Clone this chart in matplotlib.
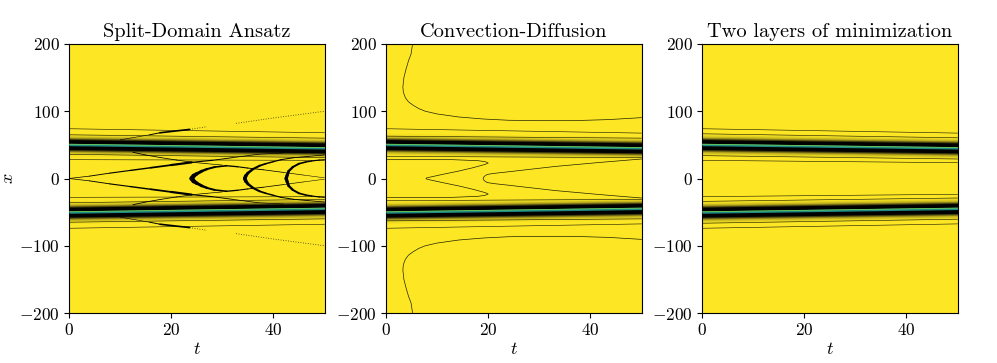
#!/usr/bin/env python3
"""Three field panels: yellow background, dark bands near x = +-48, thin contour lines."""

import numpy as np
import matplotlib
matplotlib.use("Agg")
import matplotlib.pyplot as plt
from matplotlib.collections import LineCollection

plt.rcParams["font.family"] = ["cmr10"]
plt.rcParams["mathtext.fontset"] = "cm"
plt.rcParams["axes.formatter.use_mathtext"] = True
plt.rcParams["axes.unicode_minus"] = True

TITLES = ["Split-Domain Ansatz", "Convection-Diffusion", "Two layers of minimization"]
BAND_T = [0, 50]
BAND_UP = [50.5, 45.5]
BAND_LOW = [-50, -44.5]

# thin lines running along the bands, (x at t=0, x at t=50); mirrored for the lower half
LINES_A = [(74, 68), (65, 60), (36, 31), (28, 27)]
LINES_B = [(74, 67.5), (63, 60), (33, 31)]
LINES_C = [(74, 67.5), (66.5, 60.5), (34, 29), (27, 23.5)]

# panel 1 features, upper half, mirrored below
V_T = [0, 4, 8, 12, 16, 20, 24]
V_X = [0, 3.5, 8, 12, 16, 20, 24]
V2_T = [24, 28, 32, 37, 42]
V2_X = [24, 27, 31, 36, 38]
BACK_T = [12.5, 15, 18, 21, 24.3, 27, 30]
BACK_X = [39, 35, 31, 27.5, 24, 22, 20]
CRES1_T = [24, 24.4, 25, 26, 27, 28.5, 30.8, 33, 35, 38, 42, 46, 50]
CRES1_X = [0, 4, 7, 11, 14, 17, 19, 17.5, 15.5, 13, 9, 5, 1]
CRES2_T = [34.4, 34.6, 35, 36, 37.3, 38.5, 40, 41.5, 44, 47, 50]
CRES2_X = [0, 4, 8, 14, 19, 22, 25, 28, 31, 33, 35]
CRES3_T = [42.5, 42.7, 43, 43.8, 45, 46.3, 47.5, 49, 50]
CRES3_X = [0, 5, 11, 17, 22, 24.5, 26, 27.5, 28]
DOT_FAR_T = [32.7, 40, 50]
DOT_FAR_X = [82, 90, 100]
DASH_T = [10, 15.8, 17.8, 23.6]
DASH_X = [57.5, 65, 68, 73]
DOT_NEAR_T = [23.6, 27]
DOT_NEAR_X = [73, 77]

# panel 2 contours
OUTER_T = [5.2, 4.9, 4.4, 3.9, 3.5, 3.3, 3.4, 3.8, 4.4, 5.3, 6.4, 7.7, 10, 14.2, 19, 24, 30, 36.5, 43.6, 50]
OUTER_X = [200, 185, 175, 162, 150, 136, 128, 120, 114, 109, 104, 100, 96, 91.5, 88.5, 86.6, 86, 86, 87.6, 90.5]
NOSE_T = [0, 13, 18, 19.4, 20, 19.4, 17, 14.2, 11, 8, 7.8, 8, 11, 14.2, 17, 19.4, 20, 19.4, 18, 13, 0]
NOSE_X = [28, 28, 26.5, 25, 23, 21, 16, 11, 6, 1, 0, -1, -6, -11, -16, -21, -23, -25, -26.5, -28, -28]
TONGUE_T = [50, 42, 33.2, 28, 24, 21, 19.8, 19.2, 19, 19.2, 19.8, 21, 24, 28, 33.2, 42, 50]
TONGUE_X = [29, 24, 18, 13.5, 10, 7.5, 6, 3, 0, -3, -6, -7.5, -10, -13.5, -18, -24, -29]

FADE = [(17, "#f4df22"), (14.5, "#e4d221"), (12.5, "#c4b51e"), (10.5, "#8c8119"), (9, "#45400f"), (7.4, "#000000")]


def draw_band(ax, center):
    c = np.array(center, dtype=float)
    for w, col in FADE:
        ax.fill_between(BAND_T, c - w, c + w, color=col, lw=0, zorder=2)
    ax.fill_between(BAND_T, c - 1.7, c + 1.7, color="#1f8a84", lw=0, zorder=3)
    ax.plot(BAND_T, c + 0.5, color="#6ece58", lw=0.6, zorder=4)


def draw_lines(ax, lines):
    for a, b in lines:
        ax.plot(BAND_T, [a, b], color="#1a1a00", lw=0.42, zorder=2.5)
        ax.plot(BAND_T, [-a, -b], color="#1a1a00", lw=0.42, zorder=2.5)


def tapered(ax, t, x, w0, w1):
    # line that thins quickly from w0 to w1
    pts = np.column_stack([t, x])
    segs = np.stack([pts[:-1], pts[1:]], axis=1)
    ax.add_collection(LineCollection(segs, linewidths=np.geomspace(w0, w1, len(segs)),
                                     colors="black", capstyle="round", zorder=2.6))


def both(ax, t, x, w0, w1):
    tapered(ax, t, x, w0, w1)
    tapered(ax, t, [-v for v in x], w0, w1)


def panel_split(ax):
    both(ax, V_T, V_X, 0.5, 1.6)
    both(ax, V2_T, V2_X, 0.8, 0.4)
    both(ax, BACK_T, BACK_X, 0.6, 0.45)
    both(ax, CRES1_T, CRES1_X, 3.2, 0.35)
    both(ax, CRES2_T, CRES2_X, 2.6, 0.5)
    both(ax, CRES3_T, CRES3_X, 2.4, 0.7)
    both(ax, DASH_T, DASH_X, 0.4, 1.2)
    for t, x in [(DOT_FAR_T, DOT_FAR_X), (DOT_NEAR_T, DOT_NEAR_X)]:
        ax.plot(t, x, color="#333300", lw=0.6, ls=(0, (1, 2)), zorder=2.6)
        ax.plot(t, [-v for v in x], color="#333300", lw=0.6, ls=(0, (1, 2)), zorder=2.6)


def panel_convection(ax):
    ax.plot(OUTER_T, OUTER_X, color="#222200", lw=0.5, zorder=2.5)
    ax.plot(OUTER_T, [-v for v in OUTER_X], color="#222200", lw=0.5, zorder=2.5)
    ax.plot(NOSE_T, NOSE_X, color="#222200", lw=0.5, zorder=2.5)
    ax.plot(TONGUE_T, TONGUE_X, color="#222200", lw=0.5, zorder=2.5)


fig = plt.figure(figsize=(9.97, 3.63), dpi=100)
lefts = [69, 386, 702]
line_sets = [LINES_A, LINES_B, LINES_C]
for i, left in enumerate(lefts):
    ax = fig.add_axes([left / 997, 1 - 313 / 363, 255.5 / 997, 269 / 363])
    ax.set_facecolor("#fde725")
    ax.set_xlim(0, 50)
    ax.set_ylim(-200, 200)
    ax.set_xticks([0, 20, 40])
    ax.set_yticks([-200, -100, 0, 100, 200])
    ax.tick_params(labelsize=12.5, length=3.5, width=0.8, pad=3)
    ax.set_title(TITLES[i], fontsize=14.7, pad=5)
    ax.set_xlabel("$t$", fontsize=13, labelpad=2)
    if i == 0:
        ax.set_ylabel("$x$", fontsize=13, labelpad=2)
    draw_lines(ax, line_sets[i])
    draw_band(ax, BAND_UP)
    draw_band(ax, BAND_LOW)
    if i == 0:
        panel_split(ax)
    if i == 1:
        panel_convection(ax)

fig.savefig("out.png", dpi=100)
